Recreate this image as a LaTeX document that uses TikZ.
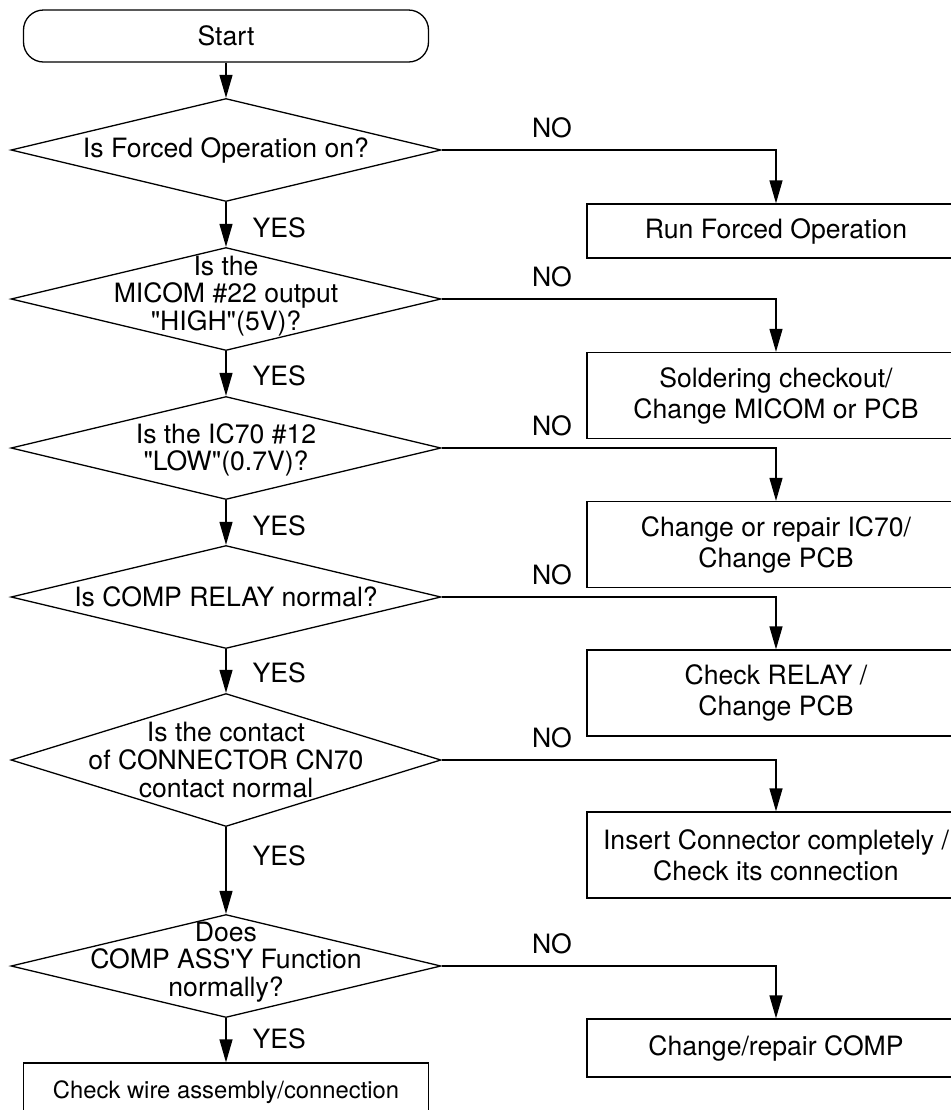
\documentclass[tikz,border=0pt]{standalone}
\usepackage{fontspec}
\setmainfont{TeX Gyre Heros}
\usepackage{tikz}
\usetikzlibrary{positioning,arrows.meta,shapes.geometric}
\tikzset{
  term/.style={draw, rounded corners=10pt, minimum width=202.5pt, minimum height=26pt, line width=0.65pt, font=\fontsize{13.3}{15.5}\selectfont},
  dia/.style={draw, diamond, inner sep=0pt, minimum width=215pt, minimum height=51.5pt, line width=0.65pt},
  qtext/.style={align=center, inner sep=0pt, font=\fontsize{13.3}{13.8}\selectfont},
  box/.style={draw, rectangle, minimum width=189pt, minimum height=43pt, align=center, line width=0.65pt, font=\fontsize{13.3}{15.5}\selectfont},
  arr/.style={-{Triangle[length=11.5pt,width=6.5pt]}, line width=0.65pt},
  yes/.style={right, inner sep=0pt, xshift=13pt, font=\fontsize{13.3}{15.5}\selectfont},
  no/.style={above, inner sep=5.5pt, font=\fontsize{13.3}{15.5}\selectfont},
}
\begin{document}
\begin{tikzpicture}[x=0.5pt, y=-0.5pt]
    \clip (0,0) rectangle (951,1110);
    % main column
    \node[term] (start) at (226,36) {Start};
    \node[dia] (d1) at (226,150) {};
    \node[qtext] (q1) at (d1) {Is Forced Operation on?};
    \node[dia] (d2) at (226,299) {};
    \node[qtext] (q2) at (226,296) {Is the\\MICOM \#22 output\\\textquotedbl HIGH\textquotedbl(5V)?};
    \node[dia] (d3) at (226,448) {};
    \node[qtext] (q3) at (226,450) {Is the IC70 \#12\\\textquotedbl LOW\textquotedbl(0.7V)?};
    \node[dia] (d4) at (226,597) {};
    \node[qtext] (q4) at (d4) {Is COMP RELAY normal?};
    \node[dia, minimum height=66.5pt] (d5) at (226,760) {};
    \node[qtext] (q5) at (d5) {Is the contact\\of CONNECTOR CN70\\contact normal};
    \node[dia] (d6) at (226,966) {};
    \node[qtext] (q6) at (226,962) {Does\\COMP ASS\textquotesingle Y Function\\normally?};
    \node[box, minimum width=202.5pt, minimum height=29pt, font=\fontsize{11.9}{14}\selectfont] (fin) at (226,1092) {Check wire assembly/connection};
    % remedies
    \node[box, minimum height=27pt] (r1) at (776,231) {Run Forced Operation};
    \node[box] (r2) at (776,395.5) {Soldering checkout/\\Change MICOM or PCB};
    \node[box] (r3) at (776,544.5) {Change or repair IC70/\\Change PCB};
    \node[box] (r4) at (776,693) {Check RELAY /\\Change PCB};
    \node[box] (r5) at (776,855) {Insert Connector completely /\\Check its connection};
    \node[box, minimum height=29pt] (r6) at (776,1048) {Change/repair COMP};
    % yes path
    \draw[arr] (start) -- (d1);
    \draw[arr] (d1) -- node[yes, pos=0.57] {YES} (d2);
    \draw[arr] (d2) -- node[yes, pos=0.55] {YES} (d3);
    \draw[arr] (d3) -- node[yes, pos=0.58] {YES} (d4);
    \draw[arr] (d4) -- node[yes, pos=0.55] {YES} (d5);
    \draw[arr] (d5) -- node[yes, pos=0.33] {YES} (d6);
    \draw[arr] (d6) -- node[yes, pos=0.47] {YES} (fin);
    % no path
    \foreach \i in {1,...,6}
      \draw[arr] (d\i.east) -| node[no, pos=0.165] {NO} (r\i.north);
\end{tikzpicture}
\end{document}
